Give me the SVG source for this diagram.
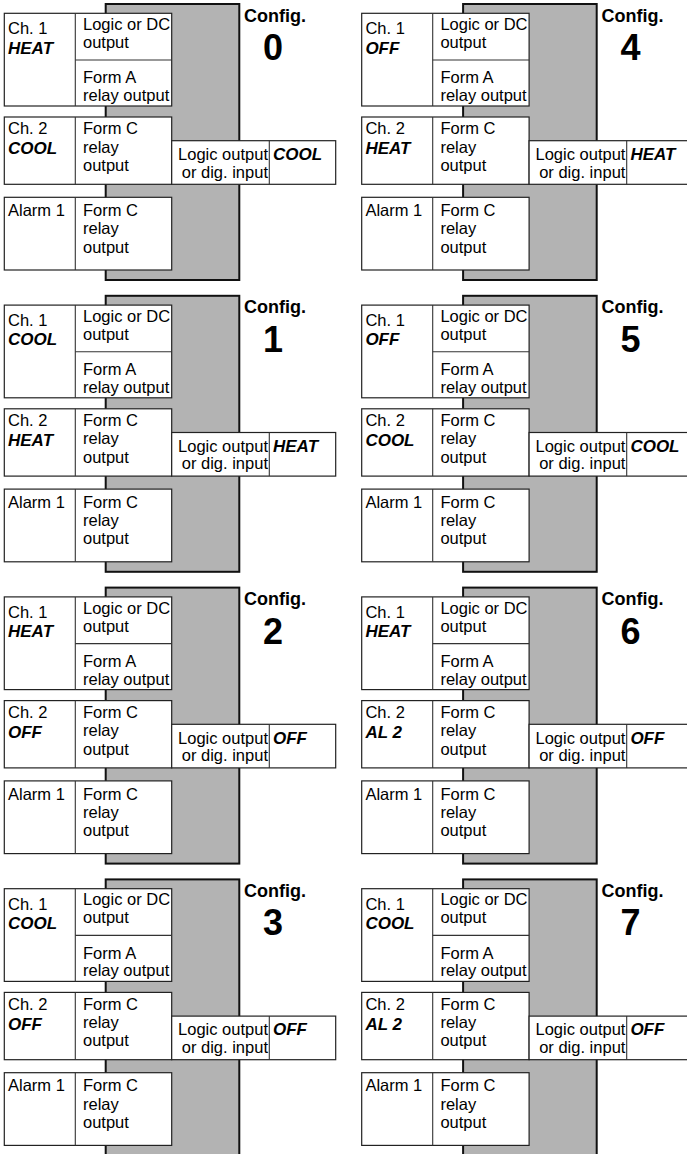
<svg xmlns="http://www.w3.org/2000/svg" xmlns:xlink="http://www.w3.org/1999/xlink" width="687" height="1154" viewBox="0 0 687 1154">
  <style>
    .bg { fill: #ffffff; }
    .body { fill: #b3b3b3; stroke: #111111; stroke-width: 2; }
    .box { fill: #ffffff; stroke: #222222; stroke-width: 1.2; }
    .div { stroke: #333333; stroke-width: 1.1; fill: none; }
    text { font-family: "Liberation Sans", Arial, sans-serif; fill: #000000; }
    .t { font-size: 16.5px; }
    .v { font-size: 17px; font-weight: bold; font-style: italic; }
    .cfg { font-size: 18px; font-weight: bold; text-anchor: middle; }
    .num { font-size: 36px; font-weight: bold; text-anchor: middle; }
    .end { text-anchor: end; }
  </style>
  <defs>
    <!-- Common controller body and output boxes shared by every configuration -->
    <g id="frame">
      <rect class="body" x="105.7" y="4" width="133.6" height="276"/>
      <!-- Channel 1 block -->
      <rect class="box" x="4.3" y="13.3" width="167.4" height="92.7"/>
      <line class="div" x1="75.3" y1="13.3" x2="75.3" y2="106"/>
      <line class="div" x1="75.3" y1="60" x2="171.7" y2="60"/>
      <text class="t" x="8" y="34.3">Ch. 1</text>
      <text class="t" x="83" y="30">Logic or DC</text>
      <text class="t" x="83" y="48">output</text>
      <text class="t" x="83" y="83.3">Form A</text>
      <text class="t" x="83" y="101">relay output</text>
      <!-- Channel 2 block -->
      <rect class="box" x="4.3" y="117" width="167.4" height="67.3"/>
      <line class="div" x1="75.3" y1="117" x2="75.3" y2="184.3"/>
      <text class="t" x="8" y="134.3">Ch. 2</text>
      <text class="t" x="83" y="134.3">Form C</text>
      <text class="t" x="83" y="152.7">relay</text>
      <text class="t" x="83" y="171">output</text>
      <!-- Logic output / digital input block -->
      <rect class="box" x="171.7" y="140.7" width="164" height="43.6"/>
      <line class="div" x1="269.3" y1="140.7" x2="269.3" y2="184.3"/>
      <text class="t end" x="268" y="160">Logic output</text>
      <text class="t end" x="268" y="177.7">or dig. input</text>
      <!-- Alarm 1 block -->
      <rect class="box" x="4.3" y="197.3" width="167.4" height="72.7"/>
      <line class="div" x1="75.3" y1="197.3" x2="75.3" y2="270"/>
      <text class="t" x="8" y="216">Alarm 1</text>
      <text class="t" x="83" y="216">Form C</text>
      <text class="t" x="83" y="234.3">relay</text>
      <text class="t" x="83" y="252.7">output</text>
      <text class="cfg" x="275" y="21.5">Config.</text>
    </g>
  </defs>

  <rect class="bg" x="0" y="0" width="687" height="1154"/>

  <!-- Left column: configurations 0-3 -->
  <g id="config0" transform="translate(0,0)">
    <use xlink:href="#frame"/>
    <text class="num" x="273" y="60">0</text>
    <text class="v" x="8" y="53.5">HEAT</text>
    <text class="v" x="8" y="154.3">COOL</text>
    <text class="v" x="273" y="160">COOL</text>
  </g>
  <g id="config1" transform="translate(0,291.8)">
    <use xlink:href="#frame"/>
    <text class="num" x="273" y="60">1</text>
    <text class="v" x="8" y="53.5">COOL</text>
    <text class="v" x="8" y="154.3">HEAT</text>
    <text class="v" x="273" y="160">HEAT</text>
  </g>
  <g id="config2" transform="translate(0,583.6)">
    <use xlink:href="#frame"/>
    <text class="num" x="273" y="60">2</text>
    <text class="v" x="8" y="53.5">HEAT</text>
    <text class="v" x="8" y="154.3">OFF</text>
    <text class="v" x="273" y="160">OFF</text>
  </g>
  <g id="config3" transform="translate(0,875.4)">
    <use xlink:href="#frame"/>
    <text class="num" x="273" y="60">3</text>
    <text class="v" x="8" y="53.5">COOL</text>
    <text class="v" x="8" y="154.3">OFF</text>
    <text class="v" x="273" y="160">OFF</text>
  </g>

  <!-- Right column: configurations 4-7 -->
  <g id="config4" transform="translate(357.4,0)">
    <use xlink:href="#frame"/>
    <text class="num" x="273" y="60">4</text>
    <text class="v" x="8" y="53.5">OFF</text>
    <text class="v" x="8" y="154.3">HEAT</text>
    <text class="v" x="273" y="160">HEAT</text>
  </g>
  <g id="config5" transform="translate(357.4,291.8)">
    <use xlink:href="#frame"/>
    <text class="num" x="273" y="60">5</text>
    <text class="v" x="8" y="53.5">OFF</text>
    <text class="v" x="8" y="154.3">COOL</text>
    <text class="v" x="273" y="160">COOL</text>
  </g>
  <g id="config6" transform="translate(357.4,583.6)">
    <use xlink:href="#frame"/>
    <text class="num" x="273" y="60">6</text>
    <text class="v" x="8" y="53.5">HEAT</text>
    <text class="v" x="8" y="154.3">AL 2</text>
    <text class="v" x="273" y="160">OFF</text>
  </g>
  <g id="config7" transform="translate(357.4,875.4)">
    <use xlink:href="#frame"/>
    <text class="num" x="273" y="60">7</text>
    <text class="v" x="8" y="53.5">COOL</text>
    <text class="v" x="8" y="154.3">AL 2</text>
    <text class="v" x="273" y="160">OFF</text>
  </g>

  <!-- No connectors between configurations -->
  <g id="connectors"/>
</svg>
